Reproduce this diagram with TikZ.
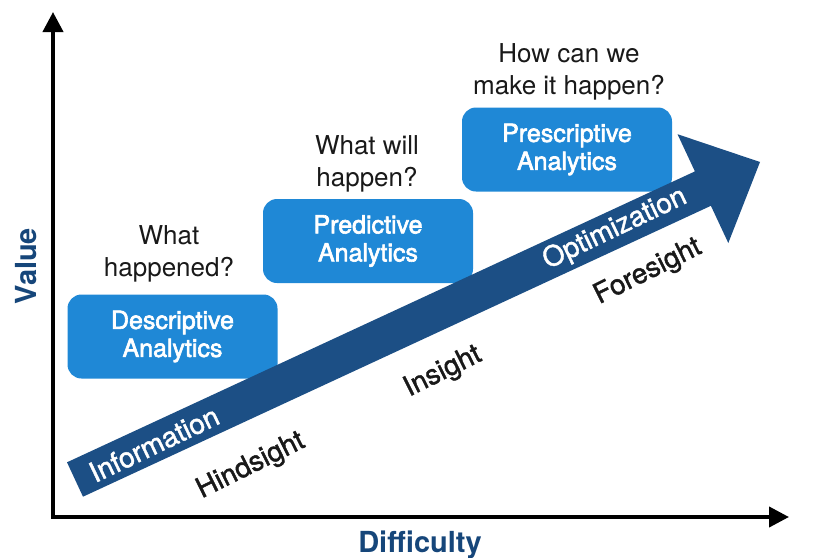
\documentclass[tikz,border=0pt]{standalone}
\usepackage{fontspec}
\setmainfont{TeX Gyre Heros}
\newfontfamily\medfont[FakeBold=1.5]{TeX Gyre Heros}
\newfontfamily\semifont[FakeBold=2.5]{TeX Gyre Heros}
\usetikzlibrary{arrows.meta}
\definecolor{boxblue}{RGB}{31,136,214}
\definecolor{arrowblue}{RGB}{28,79,133}
\definecolor{axisblue}{RGB}{22,70,122}
\begin{document}
\begin{tikzpicture}[x=1pt,y=-1pt,
  abox/.style={fill=boxblue, rounded corners=14pt, minimum width=210pt, minimum height=84pt, text=white, align=center, font=\semifont\fontsize{25}{28}\selectfont, inner sep=0pt},
  question/.style={align=center, font=\fontsize{26}{32}\selectfont, text=black!90},
  onarrow/.style={text=white, rotate=25.5, font=\medfont\fontsize{28}{32}\selectfont},
  underarrow/.style={text=black!90, rotate=26.5, font=\medfont\fontsize{28}{32}\selectfont},
  axislabel/.style={text=axisblue, font=\fontsize{29}{34}\selectfont\bfseries},
  axisline/.style={line width=4pt, line join=miter, {Triangle[length=20pt,width=20pt]}-{Triangle[length=20pt,width=20pt]}}
]
\useasboundingbox (0,0) rectangle (816,557);

% axes
\coordinate (O) at (53,517);
\coordinate (Ytip) at (53,12);
\coordinate (Xtip) at (789,517);
\draw[axisline] (Ytip) -- (O) -- (Xtip);
\node[axislabel, rotate=90] (value) at (26,266) {Value};
\node[axislabel] (difficulty) at (420,545) {Difficulty};

% boxes
\node[abox] (desc) at (172.5,336.5) {Descriptive\\Analytics};
\node[abox] (pred) at (368,241) {Predictive\\Analytics};
\node[abox] (presc) at (567,149.5) {Prescriptive\\Analytics};

% questions
\node[question] (q1) at (169,254) {What\\happened?};
\node[question] (q2) at (367,164) {What will\\happen?};
\node[question] (q3) at (569,72) {How can we\\make it happen?};

% big arrow
\coordinate (A1) at (67,462.3);
\coordinate (A2) at (694.9,171.4);
\coordinate (A3) at (677.5,134.2);
\coordinate (T) at (760,162);
\coordinate (A5) at (728.3,243);
\coordinate (A6) at (710.9,205.8);
\coordinate (A7) at (83,496.7);
\fill[arrowblue] (A1) -- (A2) -- (A3) -- (T) -- (A5) -- (A6) -- (A7) -- cycle;

\node[onarrow] (info) at (154,444) {Information};
\node[onarrow] (optim) at (615,229) {Optimization};

\node[underarrow] (hind) at (251,466) {Hindsight};
\node[underarrow] (ins) at (443,372) {Insight};
\node[underarrow] (fore) at (648,272) {Foresight};
\end{tikzpicture}
\end{document}
